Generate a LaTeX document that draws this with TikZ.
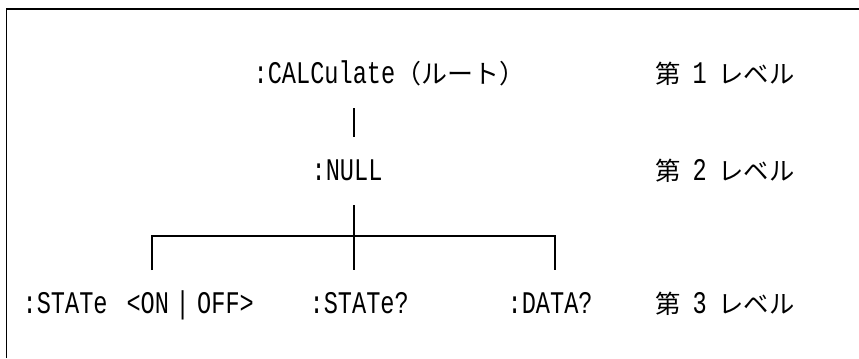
\documentclass[tikz,border=0pt]{standalone}
\usepackage{fontspec}
\newfontfamily\cmdfont[FakeStretch=0.75]{Liberation Mono}
\newfontfamily\jpfont{Noto Sans CJK JP}
\usetikzlibrary{positioning}

\tikzset{every picture/.style={line width=1pt}}
\tikzset{
  cmd/.style={anchor=west, inner sep=0pt, text height=13.5pt, text depth=0pt,
    minimum height=50pt, font=\fontsize{23.6pt}{26pt}\cmdfont},
  level/.style={cmd},
}
\newcommand{\jp}[1]{{\jpfont\fontsize{19pt}{22pt}\selectfont #1}}
\newcommand{\lvl}[1]{\jp{第}\makebox[28pt]{#1}\jp{レベル}}

\begin{document}
\begin{tikzpicture}[x=0.75pt,y=0.75pt,yscale=-1,xscale=1]
\useasboundingbox (0,0) rectangle (859,358);

%Frame
\draw (6.5,358) -- (6.5,9) -- (859,9) ;

% Text Node
\node [cmd] (calc) at (253,74) {:CALCulate{\jpfont\fontsize{19.5pt}{22pt}\selectfont （ルート）}};
% Text Node
\node [cmd] (nul) at (311,171) {:NULL};
% Text Node
\node [cmd] (state) at (22,304) {:STATe\hspace{3.6pt} <ON\hspace{4.9pt}|\hspace{5.6pt}OFF>};
% Text Node
\node [cmd] (stq) at (309,304) {:STATe?};
% Text Node
\node [cmd] (datq) at (507,304) {:DATA?};
% Text Node
\node [level] (lv1) at (655,74) {\lvl{1}};
% Text Node
\node [level] (lv2) at (655,171) {\lvl{2}};
% Text Node
\node [level] (lv3) at (655,304) {\lvl{3}};

%Straight Lines
\coordinate (fork) at (354,236) ;
\coordinate (forkl) at (152,236) ;
\coordinate (forkr) at (555,236) ;
\draw (calc.south -| fork) -- (nul.north -| fork) ;
\draw (nul.south -| fork) -- (stq.north -| fork) ;
\draw (state.north -| forkl) -- (forkl) -- (forkr) -- (datq.north -| forkr) ;

\end{tikzpicture}
\end{document}
